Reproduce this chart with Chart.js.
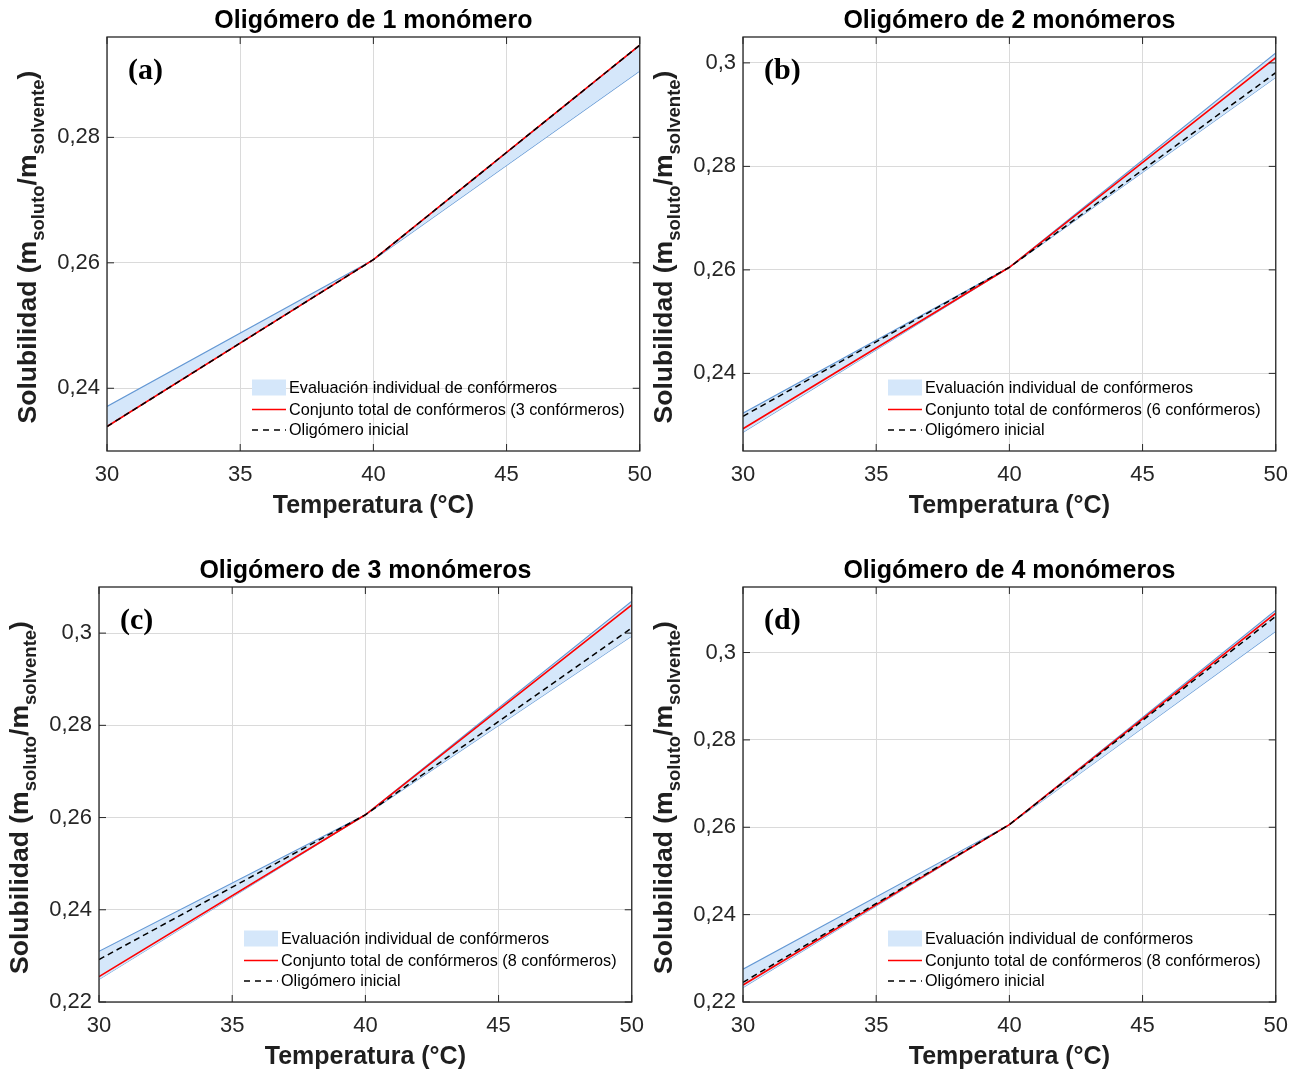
<!DOCTYPE html>
<html>
<head>
<meta charset="utf-8">
<script src="https://cdn.jsdelivr.net/npm/chart.js@4.4.0/dist/chart.umd.min.js"></script>
<style>
  html, body { margin: 0; padding: 0; background: #fff; width: 1300px; height: 1073px; overflow: hidden; position: relative; }
  canvas { position: absolute; }
</style>
</head>
<body>
<canvas id="panelA"></canvas>
<canvas id="panelB"></canvas>
<canvas id="panelC"></canvas>
<canvas id="panelD"></canvas>
<script>
// Temperatures (°C) at which solubility was evaluated
const temperatures = [30, 40, 50];
const xTickValues = [30, 35, 40, 45, 50];
const xTickLabels = ['30', '35', '40', '45', '50'];

// (a) Oligómero de 1 monómero
const bandLowA  = [0.2339, 0.2605, 0.2906];
const bandHighA = [0.2371, 0.2605, 0.2947];
const totalA    = [0.2339, 0.2605, 0.2947];
const initialA  = [0.2339, 0.2605, 0.2947];
const yTicksA   = [0.24, 0.26, 0.28];
const yLabelsA  = ['0,24', '0,26', '0,28'];

// (b) Oligómero de 2 monómeros
const bandLowB  = [0.2286, 0.2605, 0.2972];
const bandHighB = [0.2323, 0.2605, 0.3019];
const totalB    = [0.2293, 0.2605, 0.3010];
const initialB  = [0.2317, 0.2605, 0.2981];
const yTicksB   = [0.24, 0.26, 0.28, 0.30];
const yLabelsB  = ['0,24', '0,26', '0,28', '0,3'];

// (c) Oligómero de 3 monómeros
const bandLowC  = [0.2249, 0.2606, 0.2994];
const bandHighC = [0.2310, 0.2606, 0.3069];
const totalC    = [0.2255, 0.2606, 0.3061];
const initialC  = [0.2292, 0.2606, 0.3011];
const yTicksC   = [0.22, 0.24, 0.26, 0.28, 0.30];
const yLabelsC  = ['0,22', '0,24', '0,26', '0,28', '0,3'];

// (d) Oligómero de 4 monómeros
const bandLowD  = [0.2233, 0.2606, 0.3049];
const bandHighD = [0.2275, 0.2606, 0.3097];
const totalD    = [0.2239, 0.2606, 0.3090];
const initialD  = [0.2245, 0.2606, 0.3083];
const yTicksD   = [0.22, 0.24, 0.26, 0.28, 0.30];
const yLabelsD  = ['0,22', '0,24', '0,26', '0,28', '0,3'];

const FONT = '"Liberation Sans", Arial, Helvetica, sans-serif';
const AXIS = '#262626';
const GRID = '#dadada';
const BAND_FILL = 'rgb(213,231,250)';
const BAND_EDGE = 'rgb(100,152,212)';
const RED = '#ff0000';
const BLACK = '#000000';

const bandLabel = 'Evaluación individual de confórmeros';
const initialLabel = 'Oligómero inicial';

const panels = [
  { id: 'panelA', tag: '(a)', title: 'Oligómero de 1 monómero', low: bandLowA, high: bandHighA, total: totalA, initial: initialA,
    totalLabel: 'Conjunto total de confórmeros (3 confórmeros)', yMin: 0.23, yMax: 0.296, yTicks: yTicksA, yLabels: yLabelsA,
    left: 0, top: 0, yw: 107, plotH: 414 },
  { id: 'panelB', tag: '(b)', title: 'Oligómero de 2 monómeros', low: bandLowB, high: bandHighB, total: totalB, initial: initialB,
    totalLabel: 'Conjunto total de confórmeros (6 confórmeros)', yMin: 0.225, yMax: 0.305, yTicks: yTicksB, yLabels: yLabelsB,
    left: 636, top: 0, yw: 107, plotH: 414 },
  { id: 'panelC', tag: '(c)', title: 'Oligómero de 3 monómeros', low: bandLowC, high: bandHighC, total: totalC, initial: initialC,
    totalLabel: 'Conjunto total de confórmeros (8 confórmeros)', yMin: 0.22, yMax: 0.31, yTicks: yTicksC, yLabels: yLabelsC,
    left: 0, top: 550, yw: 99, plotH: 415 },
  { id: 'panelD', tag: '(d)', title: 'Oligómero de 4 monómeros', low: bandLowD, high: bandHighD, total: totalD, initial: initialD,
    totalLabel: 'Conjunto total de confórmeros (8 confórmeros)', yMin: 0.22, yMax: 0.315, yTicks: yTicksD, yLabels: yLabelsD,
    left: 636, top: 550, yw: 107, plotH: 415 }
];

const PLOT_W = 532;
const TITLE_H = 37;
const XAXIS_H = 70;
const CANVAS_RIGHT = 24;   // room right of the plot taken by the last tick label
const RIGHT_PAD = 2;

function toPoints(values) {
  return temperatures.map((t, i) => ({ x: t, y: values[i] }));
}

// Y-axis label with subscripts: Solubilidad (m_soluto/m_solvente)
function drawYTitle(ctx, baseX, centerY) {
  const parts = [
    { t: 'Solubilidad (m', size: 26.5, dy: 0 },
    { t: 'soluto', size: 18.5, dy: 8 },
    { t: '/m', size: 26.5, dy: 0 },
    { t: 'solvente', size: 18.5, dy: 8 },
    { t: ')', size: 26.5, dy: 0 }
  ];
  ctx.save();
  ctx.translate(baseX, centerY);
  ctx.rotate(-Math.PI / 2);
  ctx.fillStyle = '#1f1f1f';
  ctx.textAlign = 'left';
  ctx.textBaseline = 'alphabetic';
  let total = 0;
  parts.forEach(p => {
    ctx.font = 'bold ' + p.size + 'px ' + FONT;
    p.w = ctx.measureText(p.t).width;
    total += p.w;
  });
  let pos = -total / 2;
  parts.forEach(p => {
    ctx.font = 'bold ' + p.size + 'px ' + FONT;
    ctx.fillText(p.t, pos, p.dy);
    pos += p.w;
  });
  ctx.restore();
}

// Box, inward ticks, panel tag, legend and y label
const panelDecor = {
  id: 'panelDecor',
  afterDraw(chart, args, opts) {
    const { ctx, chartArea: a } = chart;
    const xs = chart.scales.x, ys = chart.scales.y;
    ctx.save();

    ctx.strokeStyle = AXIS;
    ctx.lineWidth = 1;
    ctx.beginPath();
    xs.ticks.forEach(t => {
      const px = xs.getPixelForValue(t.value);
      ctx.moveTo(px, a.bottom); ctx.lineTo(px, a.bottom - 7);
      ctx.moveTo(px, a.top); ctx.lineTo(px, a.top + 7);
    });
    ys.ticks.forEach(t => {
      const py = ys.getPixelForValue(t.value);
      ctx.moveTo(a.left, py); ctx.lineTo(a.left + 7, py);
      ctx.moveTo(a.right, py); ctx.lineTo(a.right - 7, py);
    });
    ctx.stroke();

    ctx.lineWidth = 1.3;
    ctx.strokeRect(a.left, a.top, a.right - a.left, a.bottom - a.top);

    // panel tag
    ctx.fillStyle = '#000';
    ctx.font = 'bold 30px "Liberation Serif", "Times New Roman", serif';
    ctx.textAlign = 'left';
    ctx.textBaseline = 'middle';
    ctx.fillText(opts.tag, a.left + 21, a.top + 34);

    // legend (lower right, no frame)
    const ds = chart.data.datasets;
    const lx = a.left + 145;
    const rows = [a.bottom - 63.5, a.bottom - 41.5, a.bottom - 21];
    ctx.fillStyle = ds[1].backgroundColor;
    ctx.fillRect(lx, rows[0] - 8, 34, 16);
    ctx.lineWidth = 1.5;
    ctx.strokeStyle = ds[2].borderColor;
    ctx.beginPath(); ctx.moveTo(lx, rows[1]); ctx.lineTo(lx + 34, rows[1]); ctx.stroke();
    ctx.strokeStyle = ds[3].borderColor;
    ctx.setLineDash([6, 5]);
    ctx.beginPath(); ctx.moveTo(lx, rows[2]); ctx.lineTo(lx + 34, rows[2]); ctx.stroke();
    ctx.setLineDash([]);
    ctx.fillStyle = '#000';
    ctx.font = '16.2px ' + FONT;
    ctx.textBaseline = 'middle';
    [ds[1].label, ds[2].label, ds[3].label].forEach((txt, i) => {
      ctx.fillText(txt, lx + 37, rows[i] + 1);
    });

    drawYTitle(ctx, a.left - 71, (a.top + a.bottom) / 2 + 3);
    ctx.restore();
  }
};

panels.forEach(p => {
  const canvas = document.getElementById(p.id);
  const w = p.yw + PLOT_W + CANVAS_RIGHT;
  const h = TITLE_H + p.plotH + XAXIS_H;
  canvas.width = w; canvas.height = h;
  canvas.style.width = w + 'px'; canvas.style.height = h + 'px';
  canvas.style.left = p.left + 'px'; canvas.style.top = p.top + 'px';

  new Chart(canvas, {
    type: 'line',
    data: {
      datasets: [
        { label: 'band-low', data: toPoints(p.low), borderColor: BAND_EDGE, borderWidth: 1.1, pointRadius: 0, fill: false, order: 4 },
        { label: bandLabel, data: toPoints(p.high), borderColor: BAND_EDGE, borderWidth: 1.1, backgroundColor: BAND_FILL, fill: '-1', pointRadius: 0, order: 3 },
        { label: p.totalLabel, data: toPoints(p.total), borderColor: RED, borderWidth: 1.6, pointRadius: 0, fill: false, order: 2 },
        { label: initialLabel, data: toPoints(p.initial), borderColor: BLACK, borderWidth: 1.5, borderDash: [6, 4], pointRadius: 0, fill: false, order: 1 }
      ]
    },
    options: {
      responsive: false,
      animation: false,
      devicePixelRatio: 1,
      layout: { padding: { left: 0, right: RIGHT_PAD, top: 0, bottom: 0 } },
      plugins: {
        legend: { display: false },
        tooltip: { enabled: false },
        title: {
          display: true, text: p.title, fullSize: false, color: '#000',
          font: { family: FONT, size: 25, weight: 'bold', lineHeight: 1.2 },
          padding: { top: 6, bottom: 1 }
        },
        panelDecor: { tag: p.tag }
      },
      scales: {
        x: {
          type: 'linear', min: 30, max: 50,
          afterBuildTicks: s => { s.ticks = xTickValues.map(v => ({ value: v })); },
          afterFit: s => { s.height = XAXIS_H; },
          grid: { color: GRID, lineWidth: 1, drawTicks: false },
          border: { display: false },
          ticks: { padding: 11, color: AXIS, font: { family: FONT, size: 22 }, callback: (v, i) => xTickLabels[i] },
          title: { display: true, text: 'Temperatura (°C)', color: '#1f1f1f', font: { family: FONT, size: 25, weight: 'bold' }, padding: { top: 0, bottom: 0 } }
        },
        y: {
          type: 'linear', min: p.yMin, max: p.yMax,
          afterBuildTicks: s => { s.ticks = p.yTicks.map(v => ({ value: v })); },
          afterFit: s => { s.width = p.yw; },
          grid: { color: GRID, lineWidth: 1, drawTicks: false },
          border: { display: false },
          ticks: { padding: 7, color: AXIS, font: { family: FONT, size: 22 }, callback: (v, i) => p.yLabels[i] }
        }
      }
    },
    plugins: [panelDecor]
  });
});
</script>
</body>
</html>
